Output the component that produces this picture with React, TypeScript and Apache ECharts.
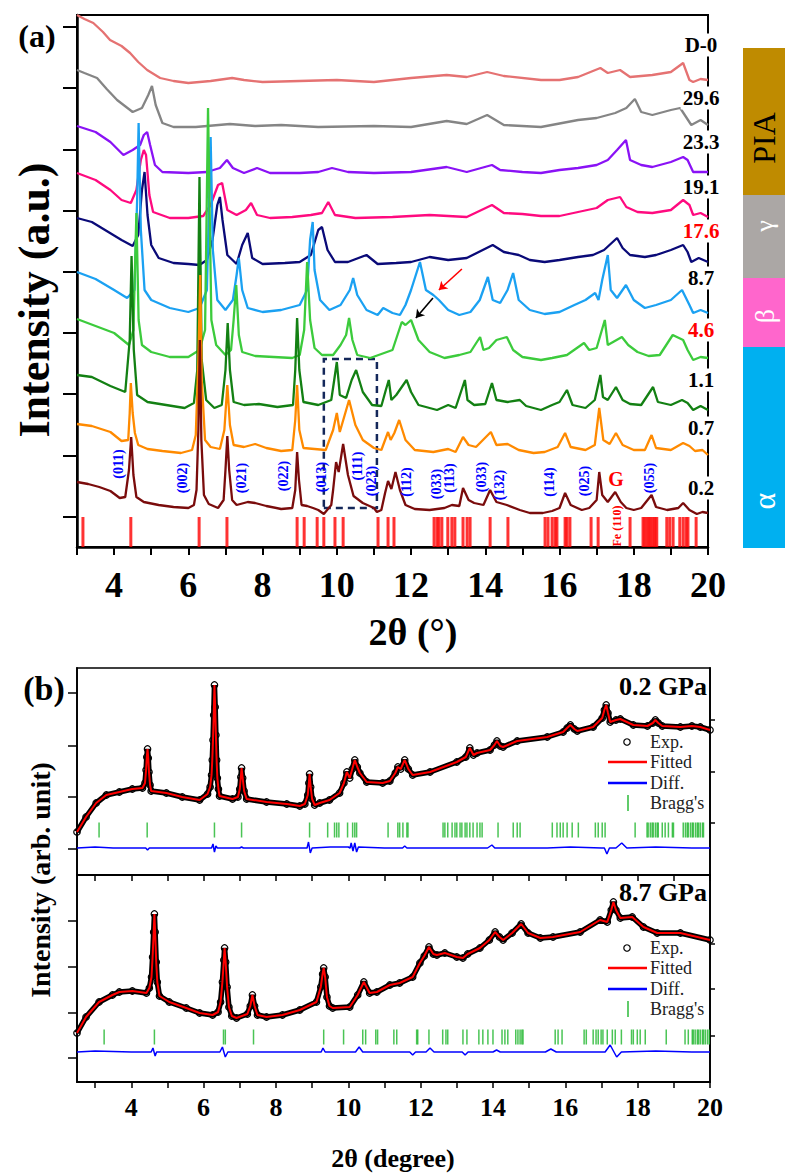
import React, { useEffect, useRef } from "react";
import * as echarts from "echarts";

const SERIF = "Liberation Serif, Times New Roman, serif";

// ---------------- Panel (a): stacked high-pressure patterns ----------------
// Each profile: [2θ (deg), intensity above the trace's own baseline]
const pressures = ["0.2", "0.7", "1.1", "4.6", "8.7", "17.6", "19.1", "23.3", "29.6", "D-0"];
const traceColors = ["#7A0C0C", "#FF8A00", "#138013", "#3CCB3C", "#1BA1F2", "#0A0A78", "#FF0A7F", "#8A12F5", "#858585", "#E57272"];
const pressureColors = ["#000", "#000", "#000", "#FF0000", "#000", "#FF0000", "#000", "#000", "#000", "#000"];
const baselineOffsets = [34, 94, 137, 187, 234, 283, 330, 374, 420, 465];

const p02 = [[3.0,31],[3.3,29],[3.6,26],[3.9,22],[4.15,15],[4.3,16],[4.4,43],[4.46,76],[4.52,38],[4.6,16],[4.8,11],[5.2,8],[5.6,6],[6.0,5],[6.15,8],[6.22,23],[6.27,83],[6.31,173],[6.35,73],[6.42,18],[6.55,9],[6.8,5],[6.95,13],[7.0,43],[7.05,77],[7.1,43],[7.18,13],[7.3,8],[7.6,11],[7.8,10],[8.1,7],[8.5,4],[8.8,5],[8.88,23],[8.93,61],[8.98,33],[9.05,8],[9.2,7],[9.36,5],[9.5,3],[9.65,-1],[9.85,8],[9.9,23],[9.98,51],[10.05,41],[10.17,69],[10.3,38],[10.45,17],[10.7,10],[11.0,5],[11.08,1],[11.2,3],[11.3,20],[11.38,32],[11.47,24],[11.58,41],[11.7,23],[11.85,8],[12.1,4],[12.5,3],[12.9,5],[13.1,8],[13.3,7],[13.4,25],[13.55,13],[13.7,10],[13.95,8],[14.13,23],[14.3,11],[14.58,8],[14.93,3],[15.2,0],[15.55,0],[15.8,2],[16.0,5],[16.15,20],[16.3,8],[16.6,3],[16.8,5],[17.0,13],[17.07,41],[17.15,18],[17.3,11],[17.5,21],[17.65,11],[17.8,5],[18.0,3],[18.2,5],[18.48,18],[18.6,6],[18.9,3],[19.2,5],[19.33,10],[19.5,3],[19.7,-1],[19.85,1],[20,0]];
const p07 = [[3.0,29],[3.4,27],[3.9,21],[4.2,12],[4.38,13],[4.42,40],[4.45,70],[4.5,40],[4.56,20],[4.65,8],[4.9,4],[5.3,2],[5.8,0],[6.1,3],[6.2,18],[6.27,93],[6.32,178],[6.36,73],[6.45,13],[6.6,6],[6.85,4],[6.97,23],[7.05,68],[7.12,28],[7.22,8],[7.5,6],[7.8,9],[8.1,5],[8.5,2],[8.8,3],[8.88,33],[8.93,68],[8.99,23],[9.1,5],[9.4,4],[9.7,3],[9.9,23],[10.0,40],[10.08,21],[10.15,30],[10.33,53],[10.5,28],[10.7,13],[11.0,5],[11.2,3],[11.38,21],[11.45,13],[11.55,20],[11.68,33],[11.85,13],[12.1,3],[12.6,1],[13.0,4],[13.2,1],[13.4,16],[13.55,8],[13.75,6],[14.15,21],[14.3,8],[14.6,9],[14.9,3],[15.3,0],[15.6,1],[15.95,6],[16.15,20],[16.3,6],[16.7,3],[16.95,8],[17.07,45],[17.18,13],[17.35,9],[17.52,20],[17.7,8],[18.0,3],[18.3,3],[18.48,18],[18.6,5],[19.0,3],[19.33,10],[19.5,7],[19.65,2],[19.85,3],[20,-2]];
const p11 = [[3.0,35],[3.4,33],[3.9,24],[4.3,18],[4.42,70],[4.47,154],[4.53,60],[4.62,15],[4.9,8],[5.4,5],[5.9,2],[6.15,7],[6.24,40],[6.3,233],[6.36,50],[6.48,10],[6.7,2],[6.9,5],[7.0,40],[7.06,87],[7.12,40],[7.22,8],[7.5,5],[7.9,6],[8.4,3],[8.82,5],[8.88,40],[8.93,92],[8.99,40],[9.1,8],[9.5,5],[9.85,10],[9.93,30],[10.0,48],[10.08,15],[10.25,12],[10.4,30],[10.52,40],[10.7,18],[10.95,5],[11.2,4],[11.32,20],[11.4,30],[11.47,10],[11.6,15],[11.88,30],[12.0,18],[12.2,5],[12.7,0],[13.0,5],[13.2,2],[13.45,30],[13.52,10],[13.7,5],[14.0,6],[14.18,27],[14.3,10],[14.6,8],[14.93,10],[15.1,4],[15.5,0],[15.8,5],[16.0,8],[16.2,20],[16.35,5],[16.7,2],[16.95,10],[17.1,35],[17.17,13],[17.3,10],[17.52,23],[17.7,10],[17.9,6],[18.2,5],[18.52,23],[18.65,8],[19.0,5],[19.3,10],[19.45,7],[19.6,0],[19.8,4],[20,0]];
const p46 = [[3.0,41],[3.5,34],[4.0,27],[4.4,15],[4.52,30],[4.6,147],[4.66,40],[4.75,15],[5.0,8],[5.5,3],[6.0,3],[6.3,10],[6.45,30],[6.53,252],[6.62,40],[6.75,15],[7.0,5],[7.15,10],[7.22,40],[7.29,75],[7.36,25],[7.45,8],[7.8,4],[8.3,3],[8.8,2],[9.0,5],[9.12,30],[9.2,98],[9.28,40],[9.4,12],[9.6,5],[9.9,5],[10.1,15],[10.25,25],[10.33,42],[10.42,20],[10.55,5],[10.9,2],[11.2,6],[11.5,10],[11.75,38],[11.85,35],[12.0,40],[12.2,20],[12.5,8],[12.9,2],[13.3,5],[13.6,8],[13.86,23],[13.95,10],[14.1,12],[14.3,20],[14.58,23],[14.75,10],[15.0,3],[15.5,0],[15.8,2],[16.2,5],[16.66,17],[16.8,10],[17.0,12],[17.22,40],[17.3,15],[17.68,23],[17.85,15],[18.1,8],[18.4,4],[18.7,5],[19.05,25],[19.33,20],[19.45,10],[19.6,0],[19.8,3],[20,2]];
const p87 = [[3.0,41],[3.5,34],[4.0,23],[4.35,15],[4.55,23],[4.62,113],[4.66,190],[4.72,83],[4.82,23],[5.0,13],[5.5,5],[6.0,1],[6.3,5],[6.5,23],[6.6,176],[6.66,63],[6.78,13],[7.0,3],[7.2,13],[7.3,38],[7.36,55],[7.45,23],[7.6,5],[8.0,1],[8.5,3],[9.0,8],[9.2,23],[9.28,73],[9.35,91],[9.4,43],[9.55,13],[9.8,3],[10.1,8],[10.35,23],[10.44,35],[10.55,18],[10.8,3],[11.1,-2],[11.25,5],[11.5,0],[11.7,-2],[11.85,8],[12.0,23],[12.24,51],[12.4,23],[12.6,18],[12.75,13],[13.0,3],[13.3,-2],[13.6,1],[13.85,13],[14.07,36],[14.2,13],[14.4,10],[14.6,23],[14.75,40],[14.9,13],[15.2,3],[15.6,-1],[16.0,1],[16.4,8],[16.7,13],[16.96,20],[17.05,13],[17.15,33],[17.3,58],[17.38,23],[17.55,15],[17.79,28],[18.0,13],[18.3,5],[18.6,8],[19.0,13],[19.3,23],[19.5,8],[19.6,0],[19.8,3],[20,0]];
const p176 = [[3.0,46],[3.4,42],[3.8,33],[4.2,24],[4.5,18],[4.65,29],[4.75,74],[4.82,92],[4.9,49],[5.0,19],[5.2,6],[5.6,1],[6.0,0],[6.3,-1],[6.5,4],[6.65,24],[6.78,59],[6.85,67],[6.92,44],[7.05,9],[7.3,0],[7.45,19],[7.6,31],[7.72,6],[8.0,0],[8.6,1],[9.0,2],[9.3,9],[9.5,34],[9.6,37],[9.75,14],[9.95,2],[10.3,2],[10.8,9],[11.1,0],[11.6,1],[12.0,2],[12.5,7],[13.0,4],[13.5,6],[14.2,19],[14.5,12],[14.9,9],[15.2,4],[15.6,2],[16.0,4],[16.5,7],[16.9,9],[17.2,14],[17.55,26],[17.7,16],[17.9,9],[18.3,7],[18.6,9],[19.0,14],[19.33,19],[19.45,12],[19.55,2],[19.75,6],[20,2]];
const p191 = [[3.0,44],[3.5,37],[3.9,27],[4.2,17],[4.45,14],[4.6,27],[4.72,57],[4.8,67],[4.86,62],[4.95,22],[5.05,5],[5.5,-1],[6.0,-1],[6.4,1],[6.6,12],[6.8,32],[6.91,34],[7.05,7],[7.3,2],[7.55,7],[7.69,14],[7.85,2],[8.2,-1],[8.8,0],[9.3,2],[9.6,4],[9.77,15],[9.95,2],[10.5,-1],[11.5,0],[12.5,2],[13.5,0],[14.18,12],[14.5,4],[15.0,3],[15.5,1],[16.0,1],[16.5,5],[17.0,9],[17.3,17],[17.63,20],[17.8,10],[18.1,5],[18.5,4],[19.0,7],[19.33,17],[19.5,12],[19.6,2],[19.8,4],[20,0]];
const p233 = [[3.0,47],[3.5,41],[3.9,31],[4.25,18],[4.5,23],[4.7,28],[4.8,38],[4.89,41],[4.97,28],[5.1,8],[5.3,1],[6.0,0],[6.5,1],[6.85,5],[7.04,13],[7.2,5],[7.5,0],[7.85,5],[8.2,0],[9.0,0],[9.5,1],[9.87,5],[10.3,1],[11.0,0],[12.0,1],[12.96,6],[13.5,1],[14.18,8],[14.4,3],[15.0,1],[15.5,0],[16.0,3],[16.5,5],[17.0,8],[17.3,13],[17.55,23],[17.79,33],[17.9,13],[18.2,8],[18.5,6],[19.0,11],[19.33,16],[19.45,13],[19.6,1],[19.8,1],[20,1]];
const p296 = [[3.0,57],[3.2,54],[3.54,49],[3.8,38],[4.08,27],[4.5,15],[4.75,19],[4.92,32],[5.02,41],[5.12,22],[5.3,4],[5.6,0],[6.2,0],[7.12,3],[7.8,1],[8.5,2],[9.5,0],[11.0,1],[12.0,0],[12.96,6],[13.5,3],[14.05,12],[14.5,2],[15.5,0],[16.5,7],[17.0,9],[17.5,14],[17.8,19],[18.03,28],[18.2,15],[18.5,12],[19.0,17],[19.25,19],[19.55,2],[19.8,7],[20,2]];
const pD0 = [[3.0,67],[3.2,63],[3.44,59],[3.7,50],[3.89,42],[4.2,36],[4.43,29],[4.65,20],[4.89,12],[5.24,4],[5.6,1],[6.0,-1],[6.6,1],[7.18,4],[7.5,2],[8.0,0],[9.0,1],[10.0,2],[11.0,0],[12.0,4],[12.96,7],[13.5,5],[14.05,10],[14.5,6],[15.5,2],[16.0,2],[16.5,5],[17.1,14],[17.3,9],[17.63,12],[17.9,5],[18.5,7],[19.0,10],[19.33,19],[19.5,2],[19.6,0],[19.8,3],[20,2]];
const profiles = [p02, p07, p11, p46, p87, p176, p191, p233, p296, pD0];

// Reference reflection positions (2θ) of the α phase
const refPeaks = [3.16,4.45,6.29,7.04,8.93,9.12,9.47,9.65,9.95,10.17,11.11,11.38,11.54,12.62,12.7,12.75,12.83,12.99,13.1,13.18,13.4,13.51,13.59,14.13,14.61,15.61,15.69,15.8,15.88,15.93,16.15,16.2,16.28,16.85,17.04,17.9,18.25,18.3,18.36,18.41,18.46,18.52,18.57,18.62,18.89,18.97,19.06,19.24,19.33,19.41,19.46,19.68];
const hklTexts = ["(011)","(002)","(021)","(022)","(013)","(111)","(023)","(112)","(033)","(113)","(033)","(132)","(114)","(025)","(055)"];
const phaseNames = ["PIA", "γ", "β", "α"];

// ---------------- Panel (b): refinements ----------------
const observed02 = [[2.5,43],[2.75,58],[3.03,72],[3.31,80],[3.67,83],[4.03,86],[4.31,87],[4.38,92],[4.41,105],[4.43,118],[4.45,126],[4.47,117],[4.49,103],[4.52,90],[4.55,84],[4.97,82],[5.41,78],[5.89,75],[6.11,81],[6.18,88],[6.22,100],[6.24,115],[6.26,135],[6.28,160],[6.3,190],[6.32,168],[6.34,140],[6.36,115],[6.38,97],[6.41,86],[6.44,79],[6.8,76],[6.95,78],[7.0,86],[7.03,98],[7.05,107],[7.08,97],[7.12,84],[7.19,76],[7.74,73],[8.3,71],[8.66,69],[8.8,71],[8.88,80],[8.91,92],[8.93,101],[8.96,88],[9.0,76],[9.07,70],[9.21,72],[9.48,75],[9.76,82],[9.88,92],[9.96,103],[10.04,97],[10.11,106],[10.18,115],[10.25,108],[10.32,102],[10.51,93],[10.95,92],[11.15,94],[11.3,102],[11.37,108],[11.45,106],[11.56,115],[11.66,106],[11.78,100],[12.26,103],[13.0,113],[13.25,118],[13.36,127],[13.46,120],[13.56,122],[13.92,125],[14.04,130],[14.11,134],[14.2,129],[14.28,128],[14.67,134],[15.5,138],[15.94,143],[16.05,147],[16.14,150],[16.25,146],[16.33,144],[16.77,148],[17.02,157],[17.08,165],[17.13,170],[17.18,162],[17.24,153],[17.4,155],[17.52,156],[17.88,150],[18.27,149],[18.42,152],[18.49,155],[18.57,152],[18.68,149],[19.18,148],[19.5,149],[19.73,148],[20,145]];
const fitted02 = observed02;
const diff02 = [[2.5,27],[3.0,28],[3.5,27],[4.0,27],[4.4,27],[4.45,25],[4.5,27],[5.5,27],[6.22,27],[6.26,31],[6.3,23],[6.34,29],[6.38,27],[7.0,27],[7.05,28],[7.1,27],[8.0,27],[8.86,27],[8.9,33],[8.95,22],[9.0,27],[9.5,28],[10.0,28],[10.05,27],[10.08,32],[10.13,24],[10.18,32],[10.23,23],[10.28,28],[11.0,27],[11.5,27],[11.56,29],[11.62,27],[12.5,27],[13.85,27],[13.97,30],[14.05,27],[14.5,27],[15.5,27],[16.14,28],[17.0,27],[17.08,27],[17.15,21],[17.22,27],[17.4,27],[17.56,32],[17.7,27],[18.5,28],[19.5,27],[20,27]];
const bragg02 = [3.11,4.44,6.3,7.05,8.93,9.43,9.62,9.68,9.74,9.98,10.12,10.18,10.23,11.1,11.37,11.42,11.51,11.62,11.65,12.62,12.67,12.75,12.87,12.95,13.0,13.09,13.14,13.23,13.28,13.36,13.45,13.56,13.64,13.7,14.14,14.56,14.67,14.75,15.64,15.77,15.86,15.94,16.05,16.19,16.36,16.83,16.91,17.02,17.1,17.93,18.26,18.29,18.35,18.4,18.43,18.49,18.54,18.57,18.68,18.76,18.85,18.96,18.99,19.26,19.32,19.37,19.4,19.46,19.51,19.54,19.6,19.65,19.68,19.73,19.79,19.82];

const observed87 = [[2.5,49],[2.75,65],[3.11,80],[3.48,87],[3.67,90],[4.03,91],[4.42,89],[4.5,94],[4.56,105],[4.59,125],[4.62,150],[4.64,168],[4.66,150],[4.69,120],[4.72,100],[4.78,86],[5.05,80],[5.52,74],[5.89,69],[6.25,67],[6.4,70],[6.47,80],[6.52,100],[6.56,122],[6.58,134],[6.61,120],[6.65,95],[6.7,75],[6.78,66],[6.91,64],[7.21,68],[7.29,76],[7.35,87],[7.41,76],[7.49,67],[7.74,65],[8.18,67],[8.66,72],[9.12,80],[9.24,95],[9.29,108],[9.32,114],[9.36,105],[9.41,85],[9.48,76],[9.57,74],[10.04,75],[10.26,87],[10.43,100],[10.59,89],[10.79,90],[11.15,97],[11.42,99],[11.78,105],[11.98,119],[12.1,126],[12.23,135],[12.35,128],[12.45,127],[12.67,129],[13.0,125],[13.17,124],[13.3,128],[13.64,134],[13.9,142],[14.06,150],[14.18,145],[14.28,142],[14.53,149],[14.78,158],[14.97,149],[15.31,144],[15.66,145],[16.41,150],[16.96,162],[17.16,160],[17.27,172],[17.33,180],[17.4,172],[17.52,164],[17.85,165],[18.16,155],[18.54,149],[19.18,149],[20,142]];
const fitted87 = observed87;
const diff87 = [[2.5,30],[3.0,31],[4.0,30],[4.55,30],[4.6,34],[4.66,26],[4.7,30],[5.5,30],[6.45,30],[6.52,35],[6.6,25],[6.67,30],[7.5,30],[9.25,30],[9.3,34],[9.36,30],[10.0,30],[10.2,30],[10.3,35],[10.4,30],[11.5,30],[11.7,30],[11.78,27],[11.86,30],[12.15,30],[12.26,34],[12.37,30],[13.15,30],[13.23,27],[13.31,30],[14.0,30],[14.1,32],[14.2,30],[15.45,30],[15.6,33],[15.75,30],[17.1,30],[17.24,37],[17.42,25],[17.55,30],[18.5,31],[19.5,30],[20,30]];
const bragg87 = [3.25,4.64,6.55,6.6,7.38,9.32,9.87,10.4,10.48,10.76,10.81,11.26,11.34,11.89,11.92,12.23,12.61,12.7,12.75,13.17,13.28,13.61,13.72,13.86,14.0,14.25,14.33,14.41,14.63,14.69,14.75,14.8,14.83,15.72,15.8,15.91,16.52,16.58,16.77,16.85,16.91,16.99,17.04,17.16,17.3,17.38,17.55,17.83,17.88,17.99,18.07,18.21,18.79,19.31,19.4,19.51,19.54,19.59,19.65,19.68,19.73,19.79,19.82,19.87,19.93,19.98];
const legendNames = ["Exp.", "Fitted", "Diff.", "Bragg's"];

function txt(text: string, x: number, y: number, size: number, weight: string, fill = "#000", extra: any = {}) {
  const { align = "center", verticalAlign = "middle", rotation = 0, style = {} } = extra;
  return {
    type: "text",
    x,
    y,
    rotation,
    z: 100,
    silent: true,
    style: {
      text,
      fill,
      fontSize: size,
      fontWeight: weight,
      fontFamily: SERIF,
      align,
      verticalAlign,
      textAlign: align,
      textVerticalAlign: verticalAlign,
      ...style,
    },
  };
}

function buildOption() {
  const ROT = Math.PI / 2;

  // Panel (a) traces: upper traces first so lower ones sit on top
  const traceSeries: any[] = [];
  for (let i = profiles.length - 1; i >= 0; i--) {
    traceSeries.push({
      type: "line",
      name: pressures[i],
      xAxisIndex: 0,
      yAxisIndex: 0,
      data: profiles[i].map(([t, v]) => [t, v + baselineOffsets[i]]),
      showSymbol: false,
      silent: true,
      lineStyle: { color: traceColors[i], width: 2.3 },
      itemStyle: { color: traceColors[i] },
      z: 3,
    });
  }

  const arrow = (from: number[], to: number[], color: string) => ({
    type: "line",
    xAxisIndex: 0,
    yAxisIndex: 0,
    data: [],
    silent: true,
    markLine: {
      silent: true,
      symbol: ["none", "arrow"],
      symbolSize: 8,
      label: { show: false },
      lineStyle: { color, width: 1.6, type: "solid" },
      data: [[{ coord: from }, { coord: to }]],
    },
  });

  // Panel (a) label layout
  const labelY = [488, 428, 380, 330, 278, 231, 187, 142, 98, 45];
  const hklPos = [[118,464],[182,478],[241,478],[283,476],[321,477],[357,466],[371,481],[406,482],[436,484],[449,478],[481,477],[499,485],[549,482],[584,481],[649,478]];
  const bands = [
    { y0: 48, y1: 195, color: "#BF8B00", text: "#000", ty: 138, size: 32 },
    { y0: 195, y1: 278, color: "#ABA7A5", text: "#fff", ty: 226, size: 26 },
    { y0: 278, y1: 347, color: "#FF66CC", text: "#fff", ty: 316, size: 28 },
    { y0: 347, y1: 548, color: "#00B0F0", text: "#fff", ty: 501, size: 32 },
  ];

  const graphics: any[] = [];
  graphics.push(txt("(a)", 37, 36, 32, "bold"));
  graphics.push(txt("Intensity (a.u.)", 34, 300, 44, "bold", "#000", { rotation: ROT }));
  graphics.push(txt("2θ (°)", 413, 632, 38, "bold"));
  pressures.forEach((p, i) => {
    graphics.push(txt(p, 701, labelY[i], 21, "bold", pressureColors[i], { style: { backgroundColor: "#fff", padding: [1, 2] } }));
  });
  hklTexts.forEach((h, i) => {
    graphics.push(txt(h, hklPos[i][0], hklPos[i][1], 14, "bold", "#0000FF", { rotation: ROT }));
  });
  graphics.push(txt("G", 616, 479, 20, "bold", "#FF0000"));
  graphics.push(txt("Fe (110)", 617, 526, 12, "bold", "#FF0000", { rotation: ROT }));
  bands.forEach((b, i) => {
    graphics.push({ type: "rect", z: 90, silent: true, shape: { x: 743, y: b.y0, width: 42, height: b.y1 - b.y0 }, style: { fill: b.color } });
    graphics.push(txt(phaseNames[i], 764, b.ty, b.size, "normal", b.text, { rotation: ROT }));
  });

  // Panel (b) texts and legends
  graphics.push(txt("(b)", 44, 688, 34, "bold"));
  graphics.push(txt("Intensity (arb. unit)", 40, 880, 28, "bold", "#000", { rotation: ROT }));
  graphics.push(txt("2θ (degree)", 393, 1158, 26, "bold"));
  graphics.push(txt("0.2 GPa", 707, 686, 26, "bold", "#000", { align: "right" }));
  graphics.push(txt("8.7 GPa", 707, 892, 26, "bold", "#000", { align: "right" }));
  [742, 948].forEach((y0) => {
    const ys = [y0, y0 + 20, y0 + 41, y0 + 61];
    graphics.push({ type: "circle", z: 100, silent: true, shape: { cx: 627, cy: ys[0], r: 3.2 }, style: { fill: "none", stroke: "#000", lineWidth: 1.2 } });
    graphics.push({ type: "line", z: 100, silent: true, shape: { x1: 608, y1: ys[1], x2: 647, y2: ys[1] }, style: { stroke: "#FF0000", lineWidth: 2.5 } });
    graphics.push({ type: "line", z: 100, silent: true, shape: { x1: 608, y1: ys[2], x2: 647, y2: ys[2] }, style: { stroke: "#0000FF", lineWidth: 2.5 } });
    graphics.push({ type: "line", z: 100, silent: true, shape: { x1: 628, y1: ys[3] - 8, x2: 628, y2: ys[3] + 8 }, style: { stroke: "#1DB52B", lineWidth: 1.4 } });
    legendNames.forEach((n, k) => graphics.push(txt(n, 650, ys[k], 18, "normal", "#222", { align: "left" })));
  });

  const axisLineA = { show: true, lineStyle: { color: "#000", width: 2.5 } };
  const axisLineB = { show: true, lineStyle: { color: "#000", width: 1.8 } };
  const intTicks = [3,4,5,6,7,8,9,10,11,12,13,14,15,16,17,18,19,20];
  const evenTicks = [4,6,8,10,12,14,16,18,20];

  const refineSeries = (obs: number[][], fit: number[][], diff: number[][], bragg: number[], xi: number, yi: number) => [
    {
      type: "line", xAxisIndex: xi, yAxisIndex: yi, data: obs, silent: true,
      symbol: "circle", symbolSize: 6.5, showSymbol: true, showAllSymbol: true,
      itemStyle: { color: "rgba(0,0,0,0)", borderColor: "#000", borderWidth: 1.2 },
      lineStyle: { color: "#000", width: 5.5 }, z: 3,
    },
    { type: "line", xAxisIndex: xi, yAxisIndex: yi, data: fit, silent: true, showSymbol: false, lineStyle: { color: "#FF0000", width: 2 }, z: 4 },
    { type: "line", xAxisIndex: xi, yAxisIndex: yi, data: diff, silent: true, showSymbol: false, lineStyle: { color: "#0000FF", width: 1.5 }, z: 4 },
    {
      type: "scatter", xAxisIndex: xi, yAxisIndex: yi, silent: true,
      data: bragg.map((t) => [t, 45]), symbol: "rect", symbolSize: [1.5, 15],
      itemStyle: { color: "#1DB52B" }, z: 4,
    },
  ];

  return {
    animation: false,
    backgroundColor: "#fff",
    textStyle: { fontFamily: SERIF },
    grid: [
      { left: 77, top: 15, width: 631, height: 532, show: true, borderColor: "#000", borderWidth: 2 },
      { left: 77, top: 668, width: 633, height: 207, show: true, borderColor: "#000", borderWidth: 1.5 },
      { left: 77, top: 875, width: 633, height: 207, show: true, borderColor: "#000", borderWidth: 1.5 },
    ],
    xAxis: [
      {
        type: "value", gridIndex: 0, min: 3, max: 20, interval: 1,
        axisLine: axisLineA, splitLine: { show: false },
        axisTick: { show: true, length: 8, lineStyle: { color: "#000", width: 2 } },
        axisLabel: {
          formatter: (v: number) => (v % 2 === 0 ? String(v) : ""),
          fontSize: 36, fontWeight: "bold", fontFamily: SERIF, color: "#000", margin: 20,
        },
      },
      {
        type: "value", gridIndex: 1, min: 2.5, max: 20,
        axisLine: axisLineB, splitLine: { show: false },
        axisTick: { show: true, length: 6, customValues: intTicks, lineStyle: { color: "#000", width: 1.5 } },
        axisLabel: { show: false },
      },
      {
        type: "value", gridIndex: 2, min: 2.5, max: 20,
        axisLine: axisLineB, splitLine: { show: false },
        axisTick: { show: true, length: 6, customValues: intTicks, lineStyle: { color: "#000", width: 1.5 } },
        axisLabel: { customValues: evenTicks, fontSize: 26, fontWeight: "bold", fontFamily: SERIF, color: "#000", margin: 12 },
      },
    ],
    yAxis: [
      {
        type: "value", gridIndex: 0, min: 0, max: 532,
        axisLine: axisLineA, splitLine: { show: false }, axisLabel: { show: false },
        axisTick: { show: true, length: 14, customValues: [30, 91, 153, 214, 275, 336, 397, 459, 520], lineStyle: { color: "#000", width: 2 } },
      },
      {
        type: "value", gridIndex: 1, min: 0, max: 207,
        axisLine: axisLineB, splitLine: { show: false }, axisLabel: { show: false },
        axisTick: { show: true, length: 9, customValues: [26, 78, 129, 182], lineStyle: { color: "#000", width: 1.5 } },
      },
      {
        type: "value", gridIndex: 1, min: 0, max: 207,
        axisLine: axisLineB, splitLine: { show: false }, axisLabel: { show: false },
        axisTick: { show: true, length: 5, customValues: [52, 103, 155], lineStyle: { color: "#000", width: 1.5 } },
      },
      {
        type: "value", gridIndex: 2, min: 0, max: 207,
        axisLine: axisLineB, splitLine: { show: false }, axisLabel: { show: false },
        axisTick: { show: true, length: 9, customValues: [24, 69, 115, 161], lineStyle: { color: "#000", width: 1.5 } },
      },
      {
        type: "value", gridIndex: 2, min: 0, max: 207,
        axisLine: axisLineB, splitLine: { show: false }, axisLabel: { show: false },
        axisTick: { show: true, length: 5, customValues: [46, 93, 138], lineStyle: { color: "#000", width: 1.5 } },
      },
    ],
    series: [
      ...traceSeries,
      {
        type: "scatter", xAxisIndex: 0, yAxisIndex: 0, silent: true,
        data: refPeaks.map((t) => [t, 15]), symbol: "rect", symbolSize: [3, 30],
        itemStyle: { color: "#FF0000" }, z: 4,
      },
      {
        type: "line", xAxisIndex: 0, yAxisIndex: 0, data: [], silent: true,
        markArea: {
          silent: true,
          itemStyle: { color: "rgba(0,0,0,0)", borderColor: "#14285A", borderWidth: 2.5, borderType: [7, 5] },
          data: [[{ coord: [9.65, 39] }, { coord: [11.08, 188] }]],
        },
      },
      arrow([13.37, 278], [12.75, 257], "#FF0000"),
      arrow([12.59, 249], [12.13, 229], "#000000"),
      ...refineSeries(observed02, fitted02, diff02, bragg02, 1, 1),
      ...refineSeries(observed87, fitted87, diff87, bragg87, 2, 3),
    ],
    graphic: graphics,
  };
}

export default function App() {
  const ref = useRef<HTMLDivElement>(null);
  useEffect(() => {
    if (!ref.current) return;
    const chart = echarts.init(ref.current, null, { renderer: "svg" });
    chart.setOption(buildOption() as any);
    return () => chart.dispose();
  }, []);
  return (
    <div
      ref={ref}
      style={{ position: "absolute", left: 0, top: 0, width: 785, height: 1173, background: "#fff" }}
    />
  );
}
